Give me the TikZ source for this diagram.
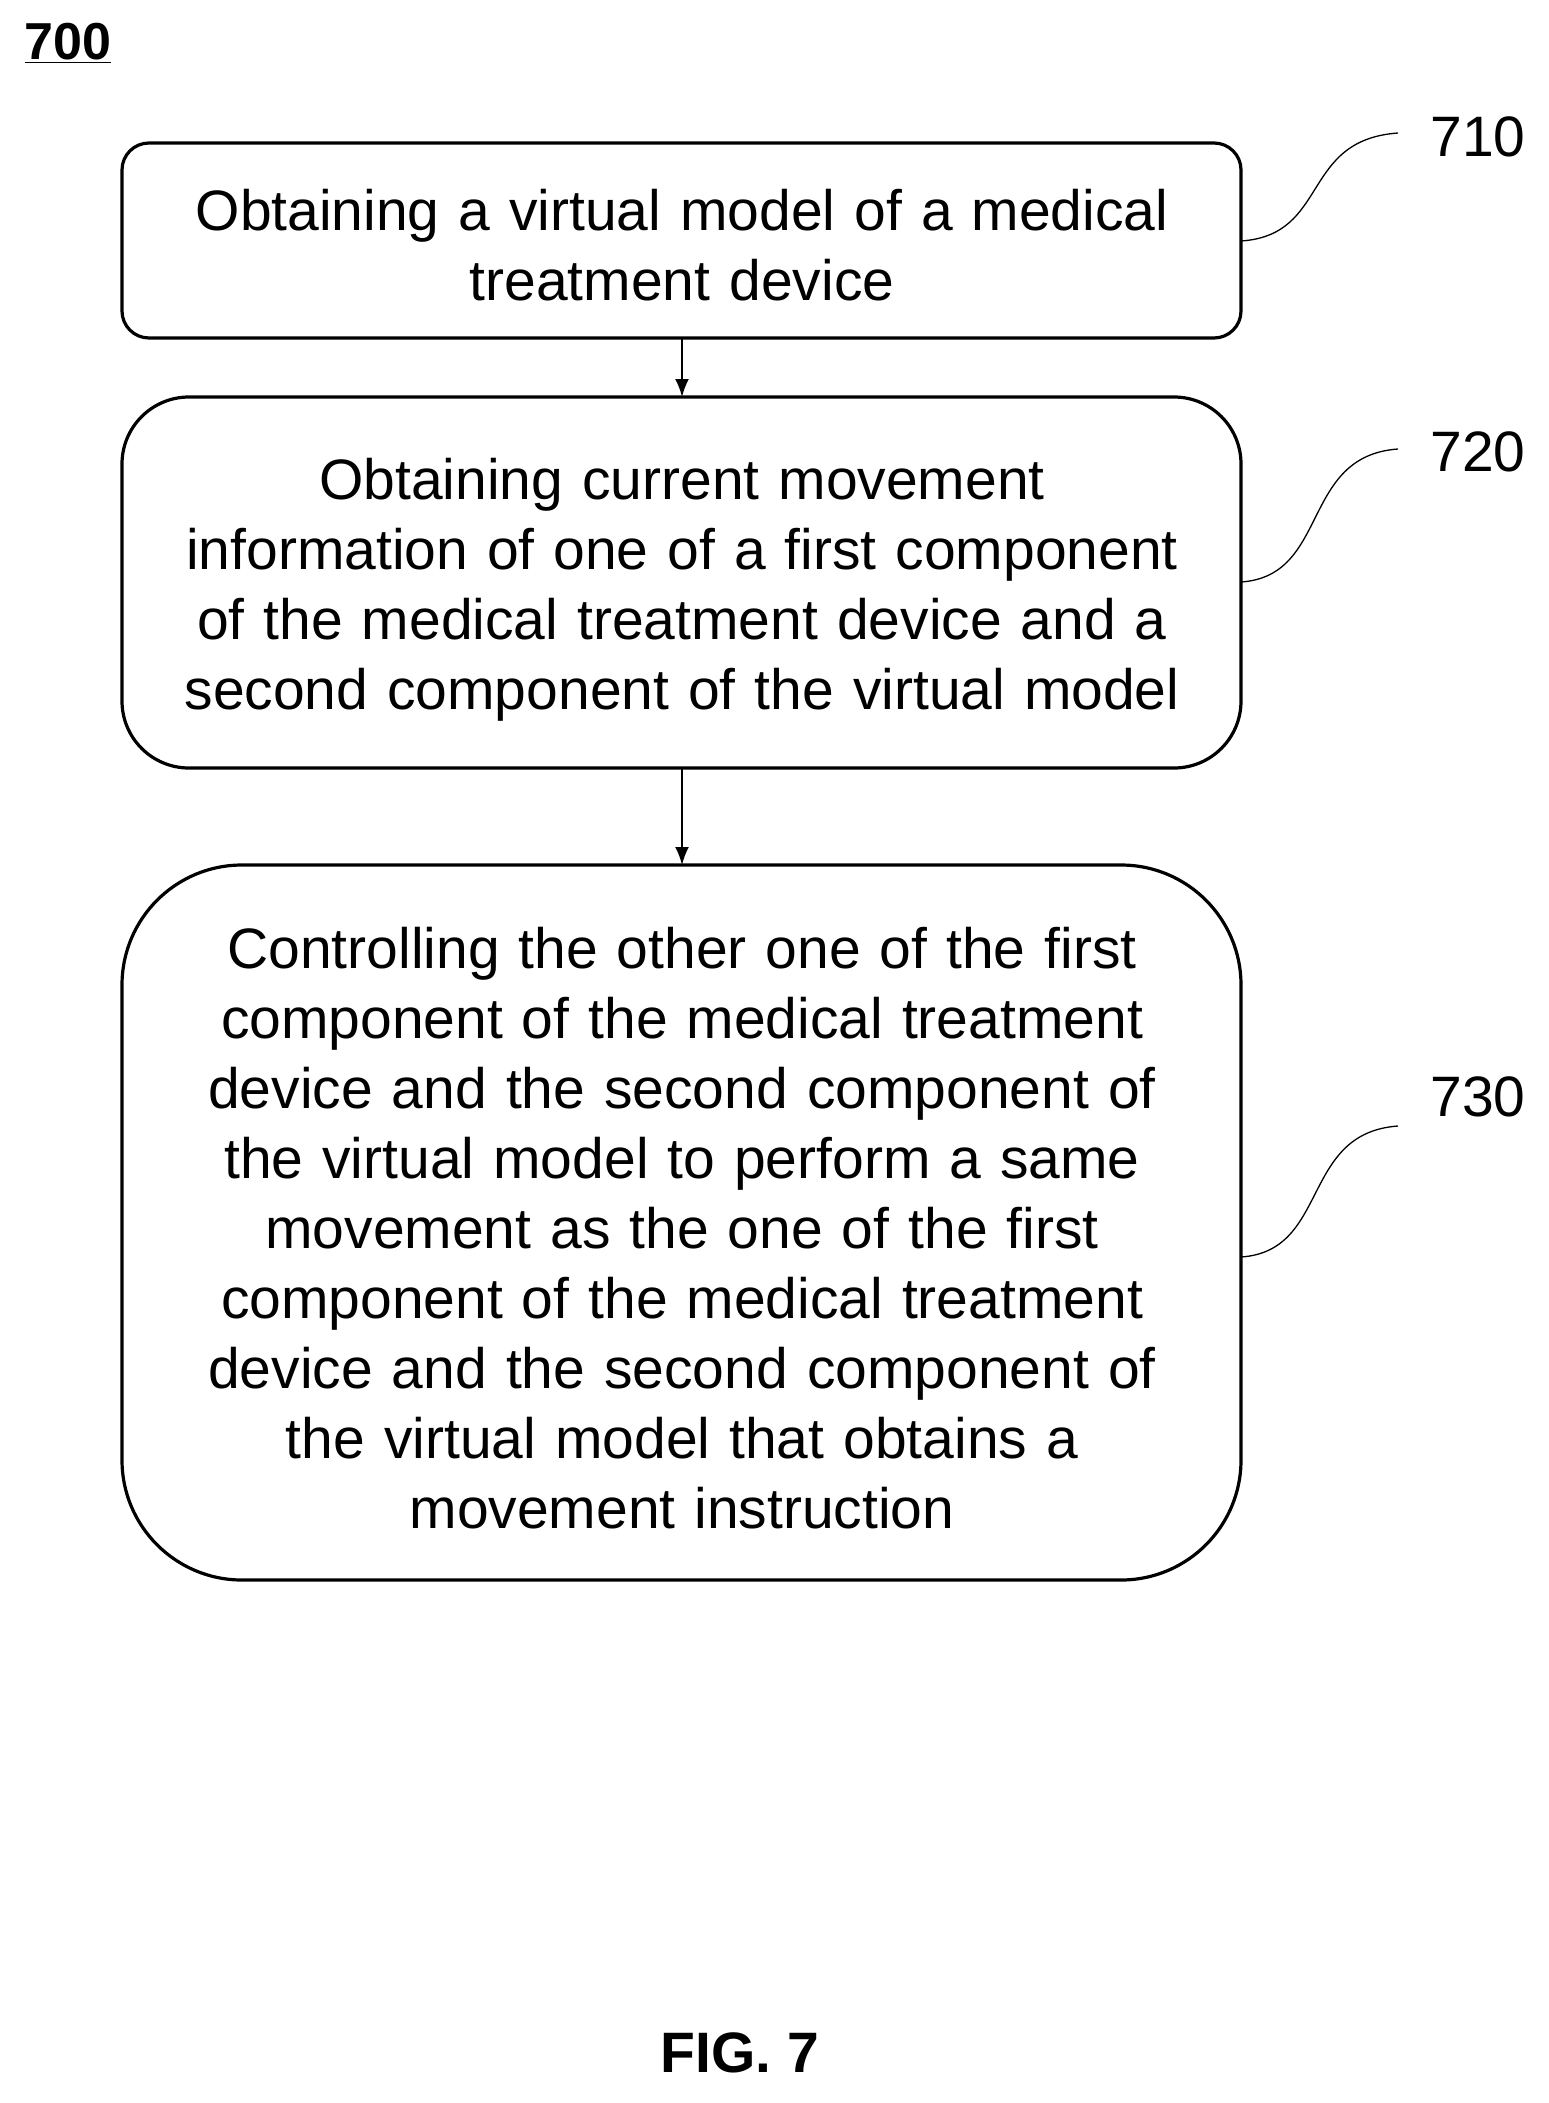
\documentclass[tikz,border=0pt]{standalone}
\usepackage{fontspec}
\setmainfont{Liberation Sans}
\usetikzlibrary{arrows.meta}
\begin{document}
\begin{tikzpicture}[x=1pt,y=-1pt,
 box/.style={draw,line width=3.2pt,align=center,font=\fontsize{57}{70}\selectfont,text width=1060pt,inner sep=0pt},
 lab/.style={font=\fontsize{57}{70}\selectfont},
 sq/.style={line width=1.3pt},
 arr/.style={line width=2pt,-{Latex[length=18pt,width=14pt]}}]
\useasboundingbox (0,0) rectangle (1549,2103);
\node[font=\bfseries\fontsize{52}{60}\selectfont] (t) at (68,43) {\underline{700}};
\draw[box,rounded corners=27pt] (122,143) rectangle (1241,338);
\node[box,draw=none] (b1) at (682,245) {Obtaining a virtual model of a medical\\treatment device};
\draw[box,rounded corners=67pt] (122,397) rectangle (1241,768);
\node[box,draw=none] (b2) at (682,590) {Obtaining current movement\\information of one of a first component\\of the medical treatment device and a\\second component of the virtual model};
\draw[box,rounded corners=120pt] (122,865) rectangle (1241,1580);
\node[box,draw=none] (b3) at (682,1228) {Controlling the other one of the first\\component of the medical treatment\\device and the second component of\\the virtual model to perform a same\\movement as the one of the first\\component of the medical treatment\\device and the second component of\\the virtual model that obtains a\\movement instruction};
\coordinate (a1) at (682,338); \coordinate (a2) at (682,397);
\coordinate (a3) at (682,768); \coordinate (a4) at (682,865);
\draw[arr] (a1) -- (a2);
\draw[arr] (a3) -- (a4);
\node[lab] (l1) at (1478,137) {710};
\node[lab] (l2) at (1478,452) {720};
\node[lab] (l3) at (1478,1097) {730};
\coordinate (s1) at (1241,241); \coordinate (e1) at (1398,133);
\coordinate (s2) at (1241,582); \coordinate (e2) at (1398,449);
\coordinate (s3) at (1241,1257); \coordinate (e3) at (1398,1126);
\draw[sq] (s1) .. controls (1330,235) and (1300,140) .. (e1);
\draw[sq] (s2) .. controls (1330,576) and (1300,456) .. (e2);
\draw[sq] (s3) .. controls (1330,1251) and (1300,1133) .. (e3);
\node[font=\bfseries\fontsize{57}{60}\selectfont] (f) at (740,2053) {FIG. 7};
\end{tikzpicture}
\end{document}
